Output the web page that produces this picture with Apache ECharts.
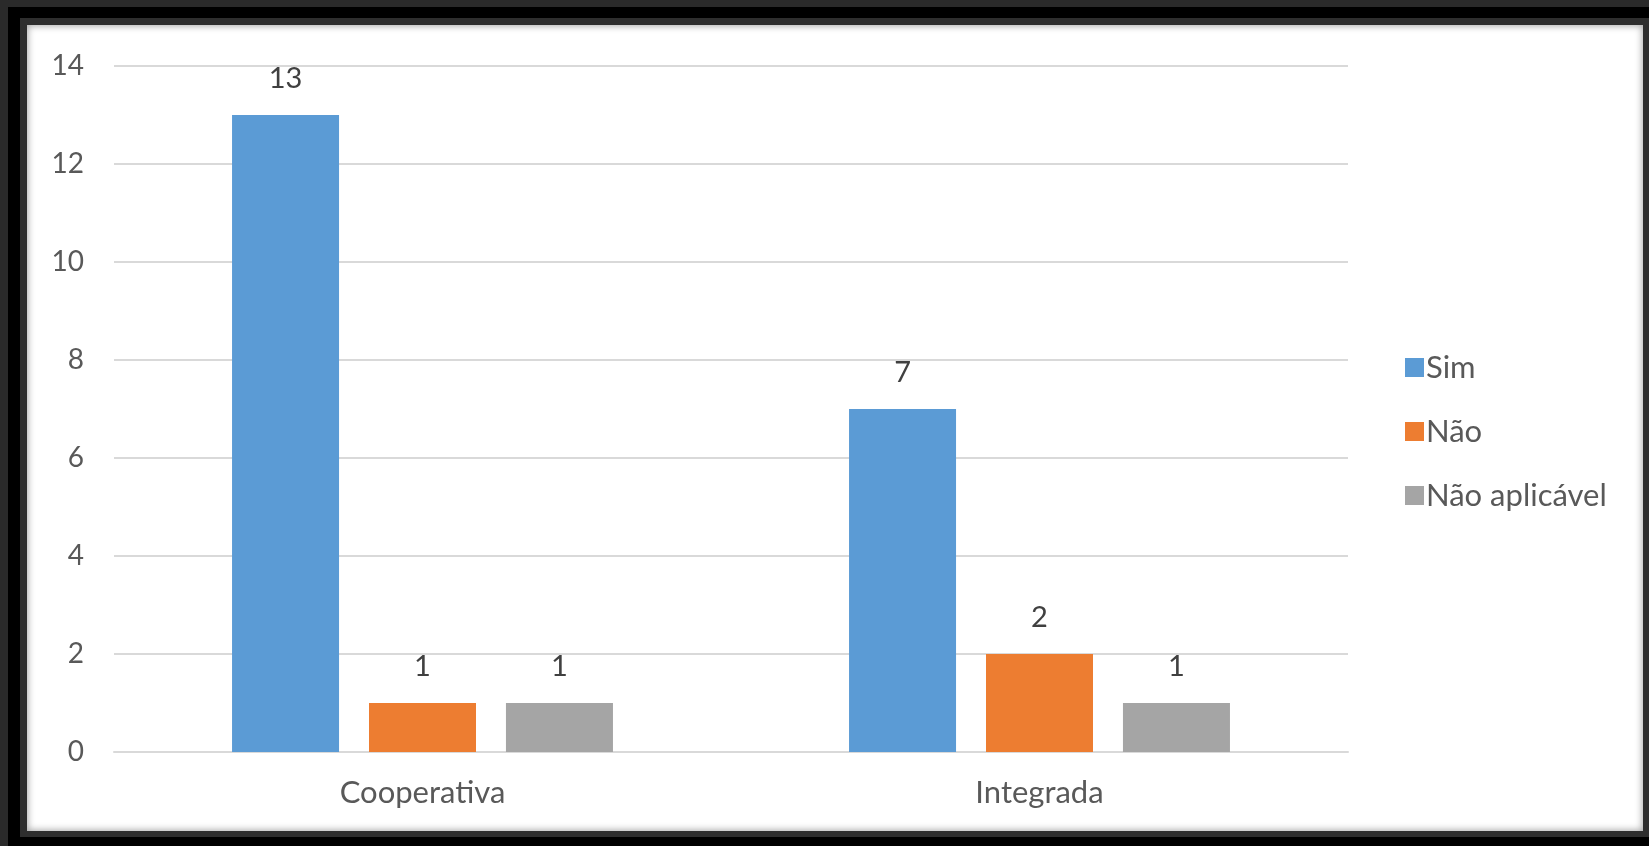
<!DOCTYPE html>
<html>
<head>
<meta charset="utf-8">
<script src="https://cdn.jsdelivr.net/npm/echarts@6/dist/echarts.min.js"></script>
<style>
  html, body { margin: 0; padding: 0; width: 1649px; height: 846px; overflow: hidden; background: #2a2a2a; }
  .frame-black { position: absolute; left: 8px; top: 7px; width: 1700px; height: 900px; background: #000; }
  .frame-inner { position: absolute; left: 20px; top: 18px; width: 1700px; height: 819px; background: #2e2e2e; }
  .panel { position: absolute; left: 27px; top: 25px; width: 1616px; height: 806px; background: #fff;
           box-shadow: inset 0 0 7px 1px rgba(0,0,0,0.35); }
  #chart { position: absolute; left: 0; top: 0; width: 1649px; height: 846px; }
</style>
</head>
<body>
<div class="frame-black"></div>
<div class="frame-inner"></div>
<div class="panel"></div>
<div id="chart"></div>
<script>
// Survey answers per organisation type
const categories = ['Cooperativa', 'Integrada'];
const seriesNames = ['Sim', 'Não', 'Não aplicável'];
const sim = [13, 7];
const nao = [1, 2];
const naoAplicavel = [1, 1];
const yTicks = [0, 2, 4, 6, 8, 10, 12, 14];

const colors = ['#5b9bd5', '#ed7d31', '#a5a5a5'];
const values = [sim, nao, naoAplicavel];
const font = 'Lato, "Open Sans", sans-serif';

const chart = echarts.init(document.getElementById('chart'), null, { renderer: 'canvas' });

chart.setOption({
  backgroundColor: 'transparent',
  animation: false,
  grid: { left: 114, right: 301, top: 66, bottom: 94 },
  legend: {
    orient: 'vertical',
    left: 1400,
    top: 347,
    itemWidth: 19,
    itemHeight: 19,
    itemGap: 33,
    icon: 'rect',
    data: seriesNames,
    textStyle: { fontFamily: font, fontSize: 31, color: '#595959', lineHeight: 30, padding: [0, 0, 0, -3] }
  },
  xAxis: {
    type: 'category',
    data: categories,
    axisLine: { lineStyle: { color: '#d9d9d9', width: 2 } },
    axisTick: { show: false },
    axisLabel: { fontFamily: font, fontSize: 31, color: '#595959', margin: 25 }
  },
  yAxis: {
    type: 'value',
    min: yTicks[0],
    max: yTicks[yTicks.length - 1],
    interval: yTicks[1] - yTicks[0],
    axisLine: { show: false },
    axisTick: { show: false },
    splitLine: { lineStyle: { color: '#d9d9d9', width: 2 } },
    axisLabel: { fontFamily: font, fontSize: 28, color: '#595959', margin: 30 }
  },
  series: seriesNames.map((name, i) => ({
    name: name,
    type: 'bar',
    data: values[i],
    barWidth: 107,
    barGap: '28%',
    itemStyle: { color: colors[i] },
    label: {
      show: true,
      position: 'top',
      distance: 22,
      fontFamily: font,
      fontSize: 29,
      color: '#404040'
    }
  }))
});
</script>
</body>
</html>
